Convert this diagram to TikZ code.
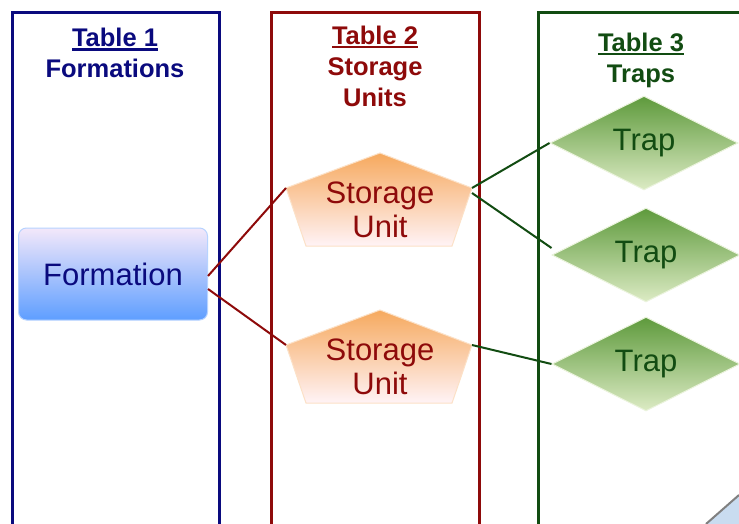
\documentclass[tikz,border=0pt]{standalone}
\usepackage{fontspec}
\setmainfont{Liberation Sans}
\usepackage{xcolor}
\definecolor{navyline}{HTML}{0A0A7E}
\definecolor{redline}{HTML}{8E0A0A}
\definecolor{greenline}{HTML}{124C12}
\definecolor{formtop}{HTML}{F3E8FA}
\definecolor{formmid}{HTML}{BCD6FF}
\definecolor{formbot}{HTML}{5E9EFF}
\definecolor{sutop}{HTML}{F6A95E}
\definecolor{subot}{HTML}{FFF3F6}
\definecolor{traptop}{HTML}{5E9A3C}
\definecolor{trapbot}{HTML}{DCEBC4}
\definecolor{slice}{HTML}{C9DCF0}
\usetikzlibrary{shapes.geometric,positioning,calc}

% thick underline for the table titles
\newsavebox{\ulbox}
\newcommand{\thickul}[1]{\sbox{\ulbox}{#1}\rlap{\rule[-4pt]{\wd\ulbox}{2.2pt}}\usebox{\ulbox}}

% pentagon for a storage unit: name, x, y of its centre
\newcommand{\storageunit}[3]{%
  \coordinate (#1-n) at (#2,#3-57);
  \coordinate (#1-e) at (#2+92,#3-22);
  \coordinate (#1-se) at (#2+72,#3+36);
  \coordinate (#1-sw) at (#2-74,#3+36);
  \coordinate (#1-w) at (#2-94,#3-22);
  \path[sushape] (#1-n) -- (#1-e) -- (#1-se) -- (#1-sw) -- (#1-w) -- cycle;
  \node[sutext] (#1) at (#2,#3) {Storage\\Unit};
}

\begin{document}
\begin{tikzpicture}[x=1pt, y=-1pt,
    frame/.style={line width=3pt},
    title/.style={align=center, font=\bfseries\fontsize{25.5}{31}\selectfont},
    formbox/.style={rectangle, rounded corners=8pt, minimum width=189pt, minimum height=92pt,
      top color=formtop, middle color=formmid, bottom color=formbot, draw=formbot!45!white,
      line width=1pt, text=navyline, font=\fontsize{31}{34}\selectfont},
    sushape/.style={top color=sutop, bottom color=subot, draw=sutop!35!white, line width=1pt},
    sutext/.style={align=center, text=redline, font=\fontsize{31}{34}\selectfont},
    trap/.style={diamond, minimum width=188pt, minimum height=94pt, inner sep=0pt,
      top color=traptop, bottom color=trapbot, draw=trapbot!60!white, line width=1pt,
      text=greenline, font=\fontsize{31}{34}\selectfont},
    redlink/.style={redline, line width=2pt},
    greenlink/.style={greenline, line width=2pt}]
  \useasboundingbox (0,0) rectangle (739,524);
  \clip (0,0) rectangle (739,524);
  \fill[white] (0,0) rectangle (739,524);

  % Table frames
  \draw[frame, navyline] (12,13) rectangle (219,560);
  \draw[frame, redline] (271,13) rectangle (479,560);
  \draw[frame, greenline] (538,13) rectangle (780,560);

  % Table titles
  \node[title, text=navyline] (title1) at (115,53) {\thickul{Table 1}\\Formations};
  \node[title, text=redline] (title2) at (375,66) {\thickul{Table 2}\\Storage\\Units};
  \node[title, text=greenline] (title3) at (641,60) {\thickul{Table 3}\\Traps};

  % Shapes
  \node[formbox] (form) at (113,274) {Formation};
  \storageunit{su1}{380}{210}
  \storageunit{su2}{380}{367}
  \node[trap] (trap1) at (644,143) {Trap};
  \node[trap] (trap2) at (646,255) {Trap};
  \node[trap] (trap3) at (646,364) {Trap};

  % Links
  \draw[redlink] ([yshift=-2pt]form.east) -- (su1-w);
  \draw[redlink] ([yshift=-15pt]form.east) -- (su2-w);
  \draw[greenlink] (su1-e) -- (trap1.west);
  \draw[greenlink] ([yshift=-5pt]su1-e) -- ([yshift=7pt]trap2.west);
  \draw[greenlink] (su2-e) -- (trap3.west);

  % cut-off shape in the corner
  \fill[slice] (706,524) -- (739,495) -- (739,524) -- cycle;
  \draw[gray, line width=2pt] (706,524) -- (739,495);
\end{tikzpicture}
\end{document}
